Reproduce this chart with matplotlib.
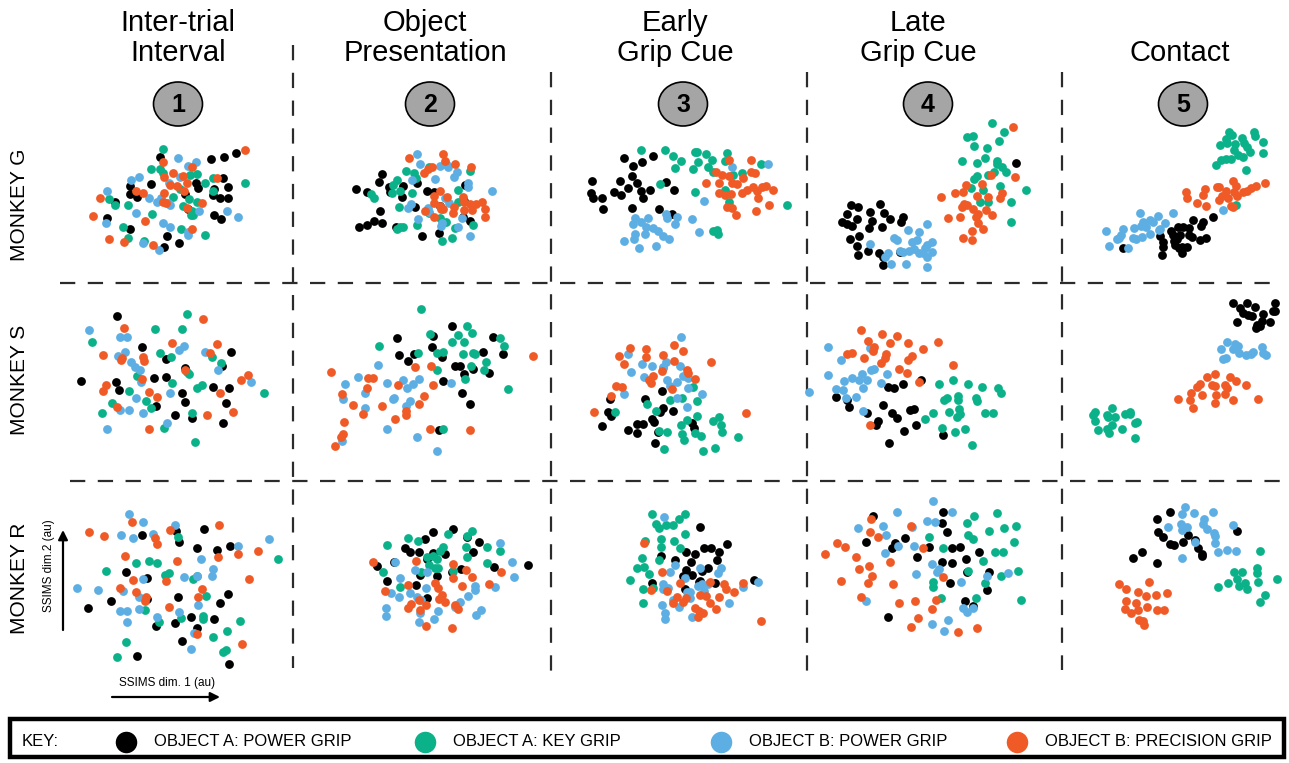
import matplotlib.pyplot as plt
from matplotlib.patches import Ellipse, Rectangle
import numpy as np

plt.rcParams['font.family'] = ['Liberation Sans', 'DejaVu Sans']
plt.rcParams['lines.scale_dashes'] = False

W, H = 1289, 763

# SSIMS embeddings (au), one list of (dim1, dim2) per condition and epoch
# G = monkey G, S = monkey S, R = monkey R ; 1..5 = task epoch
G1_powerA = [(300,82),(452,88),(493,82),(527,70),(272,163),(210,167),(210,192),(232,202),(165,215),(375,193),(408,160),(415,175),(490,143),(505,170),(462,178),(460,195),(480,205),(505,203),(385,238),(462,255),(482,268),(140,265),(210,297),(320,318),(358,338),(312,352)]
G1_keyA = [(308,57),(272,117),(300,118),(310,130),(390,135),(410,132),(460,143),(435,158),(555,160),(360,177),(458,183),(148,208),(165,225),(205,225),(340,200),(388,208),(410,215),(370,228),(395,242),(392,255),(400,255),(277,252),(190,290),(362,297),(435,316),(205,325),(252,332)]
G1_powerB = [(355,85),(385,108),(408,95),(212,150),(238,142),(360,140),(328,160),(140,183),(266,203),(290,215),(303,205),(330,225),(325,218),(418,242),(500,242),(535,262),(228,248),(138,278),(308,280),(330,292),(385,305),(385,315),(250,338),(297,360)]
G1_precB = [(556,60),(310,95),(395,112),(338,128),(370,138),(312,140),(380,160),(350,168),(330,165),(228,183),(248,188),(372,183),(313,188),(120,205),(308,215),(318,220),(425,218),(98,257),(255,272),(395,297),(147,328),(192,337),(280,346),(470,145),(382,235)]

G2_powerA = [(215,131),(208,157),(137,178),(172,187),(238,172),(240,185),(278,168),(276,202),(322,160),(350,183),(372,185),(465,165),(315,230),(210,243),(193,272),(216,280),(172,285),(148,292),(257,290),(335,317),(388,310),(390,228),(462,212),(480,272),(458,262)]
G2_keyA = [(287,123),(312,128),(358,110),(318,145),(262,150),(250,165),(270,182),(245,188),(182,192),(192,203),(307,190),(268,232),(445,180),(445,217),(358,248),(390,265),(407,275),(320,285),(270,292),(262,297),(280,290),(435,293),(488,285),(395,333),(425,325),(480,122)]
G2_powerB = [(320,72),(330,103),(390,107),(412,105),(415,112),(442,125),(432,142),(375,148),(305,150),(475,160),(475,172),(545,183),(405,205),(418,220),(302,222),(295,235),(355,235),(357,247),(323,268),(395,278),(393,287),(445,290),(457,265),(480,318)]
G2_precB = [(298,83),(398,72),(405,92),(435,102),(355,117),(343,130),(365,112),(482,112),(390,183),(372,197),(372,220),(410,200),(460,200),(462,215),(480,222),(498,222),(515,217),(485,240),(462,240),(525,237),(525,260),(432,232),(430,248),(393,238),(400,238),(345,242),(373,262),(390,228)]

G3_powerA = [(162,83),(250,78),(190,108),(215,97),(65,153),(150,152),(187,138),(200,160),(175,175),(133,185),(153,195),(212,183),(240,180),(218,205),(288,155),(312,180),(63,188),(68,203),(95,203),(100,237),(187,233),(268,237),(307,252)]
G3_keyA = [(214,60),(286,60),(310,78),(333,93),(315,115),(375,65),(382,65),(408,72),(383,95),(425,90),(470,70),(465,92),(415,112),(368,118),(430,127),(490,135),(515,128),(572,102),(270,163),(375,187),(465,180),(478,215),(652,225),(428,302),(440,300),(445,312)]
G3_powerB = [(485,112),(595,102),(402,213),(195,265),(213,275),(233,265),(190,282),(287,252),(292,265),(320,260),(365,268),(315,283),(228,292),(248,295),(265,302),(225,312),(280,318),(298,328),(195,312),(192,328),(162,333),(207,355),(258,348),(388,307)]
G3_precB = [(476,90),(543,90),(437,127),(455,135),(478,138),(408,160),(447,160),(485,158),(500,163),(543,127),(555,128),(520,145),(448,190),(465,195),(483,192),(517,190),(532,180),(550,172),(577,170),(588,168),(562,182),(608,180),(565,205),(470,232),(485,235),(497,255),(558,242),(598,225)]

G4_powerA = [(92,285),(115,290),(150,305),(180,282),(192,310),(210,327),(250,320),(243,335),(82,312),(110,327),(65,335),(80,342),(96,347),(155,332),(148,353),(185,352),(90,388),(117,378),(111,407),(145,422),(113,435),(178,428),(190,440),(190,465),(240,425),(587,158)]
G4_keyA = [(517,38),(552,65),(440,82),(458,78),(463,107),(500,113),(538,93),(425,152),(472,160),(495,145),(532,152),(532,163),(545,172),(558,185),(522,186),(505,195),(470,197),(462,207),(490,240),(540,227),(480,275),(505,277),(572,275),(618,240),(573,335),(452,235)]
G4_powerB = [(265,360),(297,365),(320,342),(222,383),(232,390),(275,395),(292,390),(335,395),(320,405),(315,415),(268,422),(283,417),(298,430),(250,425),(240,422),(335,425),(322,440),(203,428),(195,440),(150,402),(212,462),(258,462),(322,470),(310,428)]
G4_precB = [(580,50),(512,195),(585,200),(485,223),(438,225),(405,248),(428,245),(362,260),(470,257),(503,262),(545,248),(540,263),(432,283),(440,285),(425,292),(458,298),(473,312),(468,322),(498,300),(515,315),(420,322),(385,325),(473,340),(455,363),(490,358),(428,383),(455,390)]

G5_powerA = [(340,330),(370,335),(398,320),(362,348),(295,350),(308,350),(327,355),(272,362),(280,375),(240,378),(250,395),(282,392),(290,388),(300,375),(328,375),(335,382),(360,390),(377,385),(250,410),(285,405),(298,415),(305,428),(322,412),(305,410),(245,435),(128,415)]
G5_keyA = [(448,65),(455,75),(437,88),(420,105),(440,100),(465,103),(462,120),(485,85),(492,100),(522,65),(525,78),(550,95),(510,125),(500,110),(490,140),(475,135),(548,128),(438,148),(452,147),(422,150),(408,165),(498,180),(467,285)]
G5_powerB = [(180,308),(278,310),(235,318),(210,330),(188,335),(182,348),(218,335),(198,350),(255,340),(162,355),(128,357),(77,362),(122,375),(118,385),(112,388),(160,385),(167,388),(210,372),(238,360),(240,357),(187,380),(87,408),(145,413),(428,300)]
G5_precB = [(318,245),(322,265),(375,238),(368,255),(352,278),(378,288),(410,232),(418,232),(438,242),(425,258),(418,270),(460,212),(467,228),(462,245),(445,265),(472,258),(488,245),(500,242),(512,235),(528,228),(555,218),(452,288),(460,292)]

S1_powerA = [(170,48),(245,140),(318,177),(375,205),(485,197),(512,155),(62,242),(168,245),(176,270),(282,233),(318,230),(458,262),(507,263),(365,280),(375,306),(497,309),(288,318),(344,345),(395,355),(488,370)]
S1_keyA = [(380,42),(286,88),(366,88),(96,125),(300,160),(332,170),(380,215),(388,222),(457,170),(482,188),(232,228),(336,250),(410,265),(425,255),(208,272),(258,302),(155,310),(272,325),(125,340),(396,340),(312,385),(404,427),(613,278)]
S1_powerB = [(86,90),(180,110),(200,110),(195,155),(175,168),(213,187),(225,200),(240,210),(356,150),(373,138),(436,157),(475,210),(243,245),(330,278),(228,294),(207,330),(180,330),(248,338),(322,368),(140,388),(572,247)]
S1_precB = [(428,58),(192,85),(335,130),(470,132),(128,165),(182,180),(185,175),(250,170),(252,182),(374,210),(450,160),(245,238),(138,255),(130,273),(268,277),(292,290),(172,322),(544,240),(563,225),(480,278),(520,335),(440,345),(266,388)]

S2_powerA = [(230,115),(238,165),(265,183),(282,162),(338,108),(335,140),(395,78),(367,172),(405,197),(420,197),(433,222),(460,207),(508,218),(518,110),(490,155),(550,162),(370,242),(425,280),(450,312),(356,390)]
S2_keyA = [(302,28),(330,103),(177,137),(293,158),(352,160),(368,157),(352,210),(396,127),(415,104),(440,77),(433,127),(457,99),(430,163),(458,160),(465,163),(453,197),(497,187),(493,210),(436,237),(540,113),(552,137),(565,268),(370,387)]
S2_powerB = [(174,195),(76,252),(113,232),(200,250),(248,240),(260,265),(280,252),(298,237),(393,248),(134,278),(68,297),(218,297),(222,293),(270,302),(258,317),(134,325),(200,387),(292,410),(66,422),(350,453)]
S2_precB = [(32,216),(145,235),(160,235),(142,265),(66,283),(100,316),(130,343),(185,317),(235,255),(258,333),(258,345),(296,311),(313,288),(338,256),(285,202),(333,198),(226,358),(72,365),(68,402),(62,410),(46,438),(330,386),(449,391),(640,168)]

S3_powerA = [(247,183),(195,208),(90,208),(85,245),(92,258),(248,233),(280,243),(240,245),(215,267),(222,275),(172,283),(190,283),(65,287),(145,300),(172,308),(233,305),(335,280),(342,295),(225,338)]
S3_keyA = [(340,170),(305,205),(350,212),(270,210),(200,223),(228,243),(105,247),(352,258),(320,270),(400,273),(418,260),(422,285),(425,305),(302,285),(305,313),(312,330),(345,308),(362,318),(475,322),(237,302),(260,307),(252,358),(370,362),(405,355)]
S3_powerB = [(302,22),(145,72),(185,102),(215,107),(258,95),(248,112),(300,107),(152,125),(192,140),(262,150),(292,157),(310,138),(323,145),(270,168),(325,173),(365,192),(133,192),(290,205),(322,232),(248,113)]
S3_precB = [(150,55),(198,58),(282,45),(310,63),(118,78),(198,82),(248,75),(133,102),(283,93),(393,97),(245,123),(218,138),(208,150),(213,158),(108,168),(125,170),(92,197),(42,245),(320,120),(323,130),(345,148),(277,178),(498,248)]

S4_powerA = [(107,321),(140,330),(148,350),(200,368),(235,392),(228,405),(250,344),(277,370),(290,385),(265,290),(282,295),(308,282),(363,270),(330,360),(342,357),(312,422),(347,404),(267,458),(430,435)]
S4_keyA = [(418,282),(460,270),(505,282),(546,290),(593,293),(604,310),(432,330),(440,325),(473,318),(475,330),(528,325),(530,333),(448,365),(478,358),(470,380),(480,372),(555,368),(578,370),(400,370),(375,387),(425,415),(466,427),(495,418),(515,466)]
S4_powerB = [(28,305),(85,170),(122,210),(85,256),(132,273),(155,265),(185,252),(178,270),(200,270),(212,240),(222,237),(262,252),(242,280),(190,295),(108,298),(130,300),(137,323),(168,320),(188,363),(210,175)]
S4_precB = [(182,120),(245,133),(290,138),(205,152),(222,170),(218,183),(270,160),(325,158),(142,192),(157,188),(193,203),(258,193),(255,205),(335,197),(325,210),(242,218),(297,236),(320,250),(370,178),(413,157),(458,226),(358,277),(210,405)]

S5_powerA = [(1300,40),(1340,38),(1320,55),(1365,52),(1425,38),(1425,62),(1330,70),(1345,75),(1355,78),(1390,72),(1420,62),(1385,92),(1312,95),(1410,97),(1370,105),(1380,108),(1368,115)]
S5_keyA = [(885,365),(880,375),(885,392),(920,375),(935,355),(925,380),(945,380),(935,405),(975,372),(990,365),(990,372),(1005,400),(1012,395),(893,420),(920,418),(928,430),(965,418),(1005,445)]
S5_powerB = [(1280,155),(1305,162),(1262,178),(1298,178),(1315,168),(1318,190),(1337,195),(1360,185),(1385,172),(1388,190),(1352,193),(1398,195),(1278,205),(1270,207)]
S5_precB = [(1245,252),(1222,262),(1290,262),(1308,272),(1200,282),(1235,285),(1245,288),(1275,285),(1282,295),(1190,292),(1172,308),(1205,315),(1248,315),(1275,312),(1135,327),(1170,330),(1298,330),(1245,338),(1178,355),(1375,328),(1337,285)]

R1_powerA = [(245,105),(348,93),(358,127),(432,87),(410,145),(470,150),(510,138),(198,215),(260,235),(152,302),(85,323),(262,297),(353,292),(503,282),(480,310),(393,350),(462,357),(288,378),(345,370),(410,383),(366,423),(230,468),(508,492)]
R1_keyA = [(355,110),(228,188),(268,182),(290,190),(138,212),(315,225),(328,218),(400,237),(410,228),(438,288),(256,330),(363,353),(428,348),(428,358),(298,365),(502,393),(540,362),(458,412),(490,455),(497,450),(198,427),(170,472),(655,176)]
R1_powerB = [(208,42),(248,65),(345,75),(182,105),(218,115),(280,103),(422,178),(458,208),(457,228),(410,227),(372,232),(248,238),(535,137),(628,117),(50,263),(115,270),(188,272),(238,290),(180,332),(200,333),(238,328),(200,366),(292,350),(358,337),(415,315),(403,398),(392,447)]
R1_precB = [(87,96),(133,107),(215,65),(477,74),(285,115),(292,132),(330,90),(195,168),(350,184),(475,172),(533,162),(595,152),(568,238),(220,240),(318,244),(180,265),(228,275),(258,290),(255,303),(425,268),(415,290),(326,320),(410,402),(546,432)]

R2_powerA = [(1118,97),(1178,88),(1096,117),(1220,110),(1258,127),(1035,145),(1050,155),(1076,157),(1100,178),(1120,160),(1155,162),(1240,155),(1002,187),(952,198),(1080,225),(1130,227),(1175,215),(1202,207),(1303,202),(1405,195),(981,243),(1067,255),(1102,295)]
R2_keyA = [(1045,115),(1075,122),(1165,102),(1222,107),(1235,93),(980,136),(1150,140),(1140,152),(1218,140),(1282,142),(1320,152),(1118,168),(1100,172),(1130,177),(1220,170),(1280,190),(1125,205),(1133,205),(1178,213),(968,215),(1082,215),(1020,262),(1108,195)]
R2_powerB = [(1320,128),(1357,186),(1363,232),(1006,187),(1065,210),(1100,215),(1020,233),(993,280),(1018,290),(1050,280),(1098,265),(1070,292),(1083,300),(1133,332),(978,325),(978,348),(1080,340),(1078,365),(1123,358),(1200,307),(1223,288),(1245,270),(1245,258),(1306,262),(1263,330),(1248,345),(1186,320)]
R2_precB = [(940,185),(1068,182),(1178,193),(1217,210),(1178,233),(1237,232),(1287,253),(1323,217),(1045,255),(1125,250),(1133,265),(1147,285),(1138,298),(1155,305),(1077,300),(1098,315),(1053,312),(1045,325),(1080,330),(976,272),(1205,258),(1185,315),(1195,327),(1098,377),(1176,383)]

R3_powerA = [(300,95),(382,147),(312,160),(332,160),(357,172),(285,177),(258,172),(183,183),(225,195),(272,202),(350,195),(305,228),(325,220),(258,225),(250,242),(275,240),(300,258),(345,265),(155,265),(255,282),(462,254),(298,262)]
R3_keyA = [(155,58),(255,58),(237,73),(167,88),(177,100),(198,90),(218,90),(255,117),(135,138),(183,132),(222,138),(182,157),(240,160),(125,190),(176,195),(112,220),(132,215),(148,236),(90,255),(130,283),(158,278),(128,325)]
R3_powerB = [(193,67),(210,232),(225,210),(255,248),(188,268),(205,278),(190,283),(260,290),(270,290),(295,272),(305,268),(300,218),(325,268),(313,288),(270,310),(238,335),(218,315),(185,330),(195,355),(196,373),(275,365),(362,218),(355,233),(428,275),(474,260),(387,325)]
R3_precB = [(132,143),(187,232),(240,265),(152,285),(200,288),(232,307),(220,325),(258,308),(250,320),(300,300),(318,302),(330,325),(358,305),(373,268),(378,283),(403,290),(430,265),(285,340),(298,348),(310,355),(295,365),(348,343),(483,378),(330,260)]

R4_powerA = [(820,63),(1028,50),(1026,85),(1040,110),(798,140),(885,145),(876,158),(916,130),(987,155),(952,185),(1055,160),(1080,155),(1138,170),(1025,202),(1055,203),(1098,192),(1100,230),(1168,230),(1050,265),(1162,285),(1096,318),(1120,332),(864,367)]
R4_keyA = [(1192,53),(1123,63),(1248,92),(1102,84),(1212,98),(1166,108),(1105,120),(1118,132),(1242,140),(987,126),(1030,160),(1185,172),(1210,170),(1148,197),(1103,227),(1255,227),(1203,242),(998,262),(1000,275),(1156,265),(1022,310),(1127,310),(1264,316)]
R4_powerB = [(1000,17),(890,50),(1055,52),(775,98),(848,93),(980,78),(1006,82),(858,120),(937,97),(943,152),(895,152),(855,175),(995,208),(1018,222),(1012,232),(948,238),(1082,262),(1160,242),(1225,235),(1090,340),(1102,352),(1118,340),(798,318),(1045,375),(997,388),(1032,407)]
R4_precB = [(812,72),(810,112),(835,125),(932,93),(710,145),(735,157),(676,177),(768,187),(808,213),(778,222),(817,242),(722,257),(805,265),(870,202),(880,268),(783,305),(898,323),(946,318),(970,158),(1028,245),(1007,315),(995,343),(955,368),(932,395),(1075,410),(1132,400)]

R5_powerA = [(210,52),(172,73),(175,110),(190,127),(210,148),(222,150),(265,120),(250,140),(285,135),(295,160),(307,178),(305,183),(412,107),(125,170),(100,190),(170,203)]
R5_keyA = [(480,168),(403,230),(425,230),(472,218),(470,235),(410,253),(385,265),(418,272),(435,265),(442,282),(475,260),(530,252),(355,277),(495,300),(480,322)]
R5_powerB = [(255,37),(245,57),(282,55),(338,52),(313,73),(308,88),(322,103),(244,88),(245,105),(262,97),(205,97),(342,115),(345,122),(345,143),(400,90),(355,172),(380,165),(408,168),(245,188),(285,140)]
R5_precB = [(57,267),(78,282),(147,260),(113,292),(138,303),(167,300),(200,295),(78,318),(108,323),(142,337),(75,342),(92,355),(113,345),(172,345),(192,345),(118,375),(128,378),(133,390)]

epochs = [['Inter-trial', 'Interval'], ['Object', 'Presentation'], ['Early', 'Grip Cue'],
          ['Late', 'Grip Cue'], ['Contact']]
monkeys = ['MONKEY G', 'MONKEY S', 'MONKEY R']
conditions = ['OBJECT A: POWER GRIP', 'OBJECT A: KEY GRIP', 'OBJECT B: POWER GRIP', 'OBJECT B: PRECISION GRIP']
colors = ['#000000', '#0bb189', '#5daee3', '#f05a26']

panels = [
    [(G1_powerA, G1_keyA, G1_powerB, G1_precB), (G2_powerA, G2_keyA, G2_powerB, G2_precB),
     (G3_powerA, G3_keyA, G3_powerB, G3_precB), (G4_powerA, G4_keyA, G4_powerB, G4_precB),
     (G5_powerA, G5_keyA, G5_powerB, G5_precB)],
    [(S1_powerA, S1_keyA, S1_powerB, S1_precB), (S2_powerA, S2_keyA, S2_powerB, S2_precB),
     (S3_powerA, S3_keyA, S3_powerB, S3_precB), (S4_powerA, S4_keyA, S4_powerB, S4_precB),
     (S5_powerA, S5_keyA, S5_powerB, S5_precB)],
    [(R1_powerA, R1_keyA, R1_powerB, R1_precB), (R2_powerA, R2_keyA, R2_powerB, R2_precB),
     (R3_powerA, R3_keyA, R3_powerB, R3_precB), (R4_powerA, R4_keyA, R4_powerB, R4_precB),
     (R5_powerA, R5_keyA, R5_powerB, R5_precB)],
]

# layout in figure pixels
col_edges = [60, 293, 551, 807, 1062, 1290]
row_edges = [115, 283, 481, 700]
# embedding frame origin of each panel (figure px); data are 3 au per px
frame_origin = [
    [(60, 130), (310, 130), (570, 130), (820, 110), (1080, 110)],
    [(60, 300), (320, 300), (580, 330), (800, 290), (800, 290)],
    [(60, 500), (60, 500), (600, 495), (600, 495), (1100, 495)],
]
AU = 3.0

fig = plt.figure(figsize=(W / 100, H / 100), dpi=100)
bg = fig.add_axes([0, 0, 1, 1])
bg.set_xlim(0, W)
bg.set_ylim(H, 0)
bg.axis('off')

# epoch titles and numbered badges
title_x = [178, 425, 675, 918, 1180]
badge_x = [178, 430, 683, 928, 1183]
for i, lines in enumerate(epochs):
    if len(lines) == 2:
        bg.text(title_x[i], 23, lines[0], ha='center', va='center', fontsize=21)
        bg.text(title_x[i], 53, lines[1], ha='center', va='center', fontsize=21)
    else:
        bg.text(title_x[i], 53, lines[0], ha='center', va='center', fontsize=21)
    bg.add_patch(Ellipse((badge_x[i], 104), 49, 44, facecolor='#a5a5a5', edgecolor='black', lw=1.2))
    bg.text(badge_x[i], 105, str(i + 1), ha='center', va='center', fontsize=18, fontweight='bold')

for j, name in enumerate(monkeys):
    bg.text(20, [205, 380, 578][j], name, rotation=90, ha='center', va='center', fontsize=15)

# dashed grid
dash = dict(color='#2b2b2b', lw=1.6, linestyle=(0, (11, 9)))
bg.plot([293, 293], [45, 668], **dash)
bg.plot([551, 551], [72, 680], **dash)
bg.plot([807, 807], [72, 680], **dash)
bg.plot([1062, 1062], [72, 670], **dash)
bg.plot([60, 1282], [283, 283], **dash)
bg.plot([70, 1282], [481, 481], **dash)

# axis arrows
arrow = dict(arrowstyle='-|>', lw=1.6, color='black', mutation_scale=14, shrinkA=0, shrinkB=0)
bg.annotate('', xy=(63, 530), xytext=(63, 630), arrowprops=arrow)
bg.annotate('', xy=(220, 697), xytext=(112, 697), arrowprops=arrow)
bg.text(49, 566, 'SSIMS dim.2 (au)', rotation=90, ha='center', va='center', fontsize=8.5)
bg.text(167, 683, 'SSIMS dim. 1 (au)', ha='center', va='center', fontsize=8.5)

# key
bg.add_patch(Rectangle((10, 719), 1274, 38, fill=False, edgecolor='black', lw=3.2))
bg.text(22, 742, 'KEY:', ha='left', va='center', fontsize=12)
key_dot_x = [126, 425, 721, 1017]
for k, lab in enumerate(conditions):
    bg.scatter([key_dot_x[k]], [742], s=240, color=colors[k], linewidths=0)
    bg.text(key_dot_x[k] + 28, 742, lab, ha='left', va='center', fontsize=12)

# scatter panels
for r in range(3):
    for c in range(5):
        x0, x1 = col_edges[c], col_edges[c + 1]
        y0, y1 = row_edges[r], row_edges[r + 1]
        ox, oy = frame_origin[r][c]
        ax = fig.add_axes([x0 / W, 1 - y1 / H, (x1 - x0) / W, (y1 - y0) / H])
        ax.set_xlim((x0 - ox) * AU, (x1 - ox) * AU)
        ax.set_ylim((y1 - oy) * AU, (y0 - oy) * AU)
        ax.axis('off')
        for k, pts in enumerate(panels[r][c]):
            p = np.array(pts, dtype=float)
            ax.scatter(p[:, 0], p[:, 1], s=40, color=colors[k], linewidths=0, clip_on=False)

fig.savefig('out.png', dpi=100)
